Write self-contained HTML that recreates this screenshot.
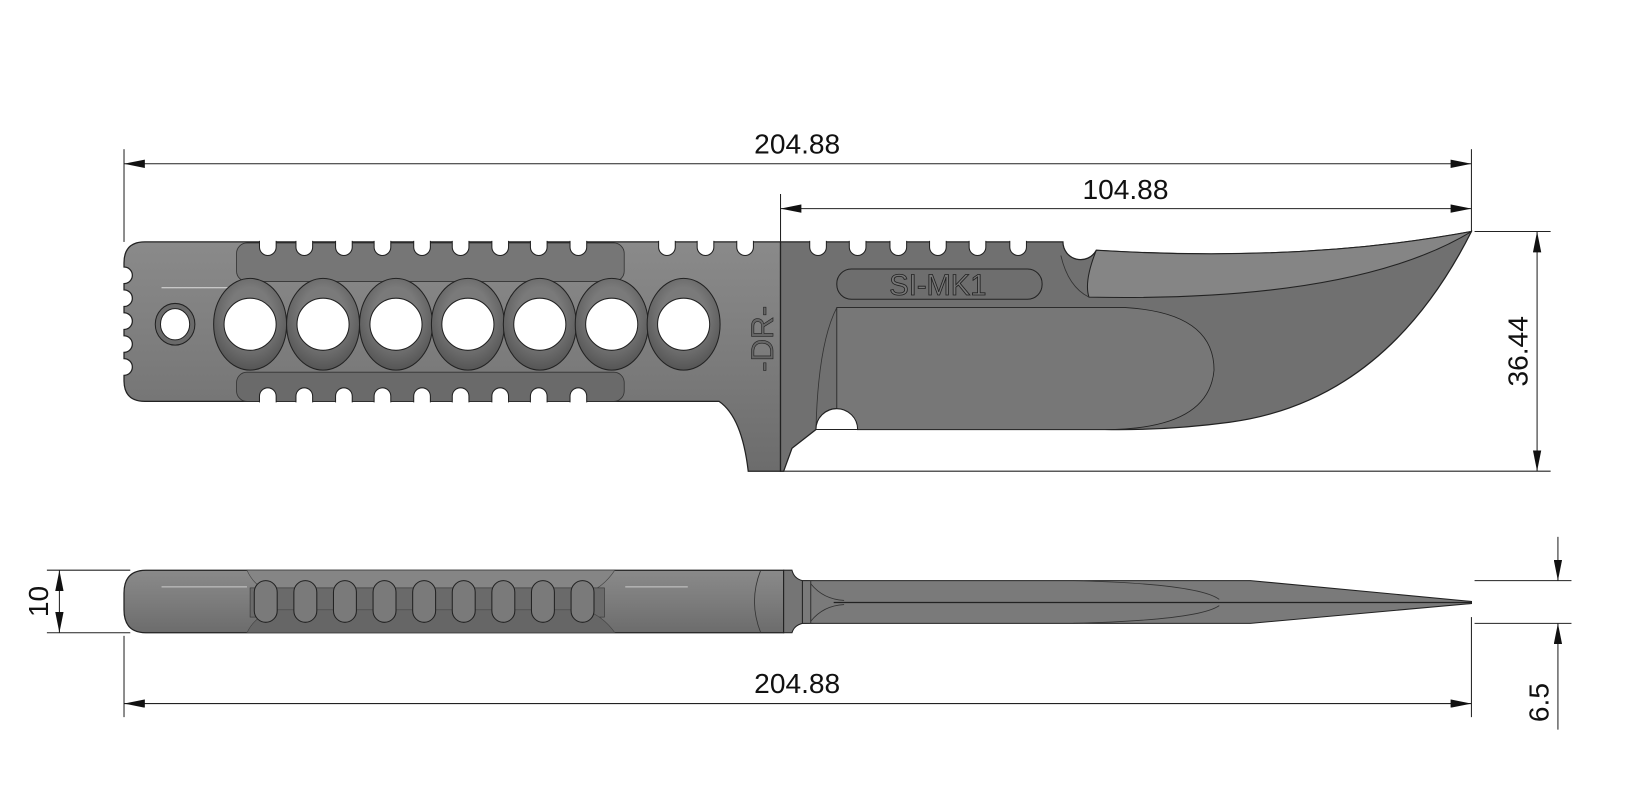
<!DOCTYPE html>
<html><head><meta charset="utf-8"><style>
html,body{margin:0;padding:0;background:#fff;}
svg{display:block;}
text{font-family:"Liberation Sans",sans-serif;fill:#111;}
</style></head><body>
<svg width="1634" height="809" viewBox="0 0 1568 776" xmlns="http://www.w3.org/2000/svg">
<defs>
<marker id="a" viewBox="0 0 20 8" refX="20" refY="4" markerWidth="20" markerHeight="8" orient="auto-start-reverse" markerUnits="userSpaceOnUse"><path d="M0,0 L20,4 L0,8 z" fill="#111"/></marker>
<linearGradient id="hg" x1="0" y1="0" x2="0" y2="1"><stop offset="0" stop-color="#8a8a8a"/><stop offset="0.5" stop-color="#7c7c7c"/><stop offset="1" stop-color="#6c6c6c"/></linearGradient>
<radialGradient id="ring" cx="0.5" cy="0.4" r="0.6"><stop offset="0.5" stop-color="#7a7a7a"/><stop offset="1" stop-color="#555"/></radialGradient>
<path id="nt" d="M-8,-1 L-8,5 A8,8 0 0 0 8,5 L8,-1" fill="#fff" stroke="#222" stroke-width="1"/>
<path id="nb" d="M-8,1 L-8,-5 A8,8 0 0 1 8,-5 L8,1" fill="#fff" stroke="#222" stroke-width="1"/>
</defs>
<g stroke="#222" stroke-width="1">
<line x1="119" y1="143" x2="119" y2="232"/>
<line x1="1412" y1="143" x2="1412" y2="222"/>
<line x1="749" y1="186" x2="749" y2="452"/>
<line x1="119" y1="157" x2="1412" y2="157" marker-start="url(#a)" marker-end="url(#a)"/>
<line x1="749" y1="200" x2="1412" y2="200" marker-start="url(#a)" marker-end="url(#a)"/>
<line x1="1415" y1="222" x2="1488" y2="222"/>
<line x1="749" y1="452" x2="1488" y2="452"/>
<line x1="1475" y1="222" x2="1475" y2="452" marker-start="url(#a)" marker-end="url(#a)"/>
</g>
<text x="765" y="147" font-size="27" text-anchor="middle">204.88</text>
<text x="1080" y="191" font-size="27" text-anchor="middle">104.88</text>
<text transform="translate(1466,337) rotate(-90)" font-size="27" text-anchor="middle">36.44</text>

<!-- handle top view -->
<path d="M139,232 L749,232 L749,452 L718,452 Q712,400 690,385 L139,385 Q119,385 119,365 L119,360 A8,8 0 0 0 119,344 L119,338 A8,8 0 0 0 119,322 L119,316 A8,8 0 0 0 119,300 L119,294 A8,8 0 0 0 119,278 L119,272 A8,8 0 0 0 119,256 L119,252 Q119,232 139,232 z" fill="url(#hg)" stroke="#222" stroke-width="1.2"/>
<rect x="227" y="233" width="372" height="37" rx="10" fill="#767676" stroke="#333" stroke-width="0.8"/>
<rect x="227" y="357" width="372" height="28" rx="10" fill="#6a6a6a" stroke="#333" stroke-width="0.8"/>
<g>
<use href="#nt" x="257" y="232"/><use href="#nt" x="292" y="232"/><use href="#nt" x="330" y="232"/><use href="#nt" x="367" y="232"/><use href="#nt" x="405" y="232"/><use href="#nt" x="442" y="232"/><use href="#nt" x="480" y="232"/><use href="#nt" x="517" y="232"/><use href="#nt" x="555" y="232"/>
<use href="#nt" x="640" y="232"/><use href="#nt" x="677" y="232"/><use href="#nt" x="715" y="232"/>
<use href="#nb" x="257" y="385"/><use href="#nb" x="292" y="385"/><use href="#nb" x="330" y="385"/><use href="#nb" x="367" y="385"/><use href="#nb" x="405" y="385"/><use href="#nb" x="442" y="385"/><use href="#nb" x="480" y="385"/><use href="#nb" x="517" y="385"/><use href="#nb" x="555" y="385"/>
</g>
<line x1="155" y1="276" x2="227" y2="276" stroke="#ddd" stroke-width="1"/>
<g stroke="#222" stroke-width="1">
<ellipse cx="240" cy="311" rx="35" ry="44" fill="url(#ring)"/>
<ellipse cx="310" cy="311" rx="35" ry="44" fill="url(#ring)"/>
<ellipse cx="380" cy="311" rx="35" ry="44" fill="url(#ring)"/>
<ellipse cx="449" cy="311" rx="35" ry="44" fill="url(#ring)"/>
<ellipse cx="518" cy="311" rx="35" ry="44" fill="url(#ring)"/>
<ellipse cx="587" cy="311" rx="35" ry="44" fill="url(#ring)"/>
<ellipse cx="656" cy="311" rx="35" ry="44" fill="url(#ring)"/>
<g fill="#fff">
<ellipse cx="240" cy="311" rx="25" ry="25"/><ellipse cx="310" cy="311" rx="25" ry="25"/><ellipse cx="380" cy="311" rx="25" ry="25"/><ellipse cx="449" cy="311" rx="25" ry="25"/><ellipse cx="518" cy="311" rx="25" ry="25"/><ellipse cx="587" cy="311" rx="25" ry="25"/><ellipse cx="656" cy="311" rx="25" ry="25"/>
</g>
<ellipse cx="168" cy="311" rx="19" ry="20" fill="#6a6a6a"/>
<ellipse cx="168" cy="311" rx="14" ry="15" fill="#fff"/>
</g>
<text transform="translate(742,325) rotate(-90)" font-size="30" text-anchor="middle" stroke="#222" stroke-width="0.6" style="fill:#666">-DR-</text>

<!-- blade top view -->
<path d="M749,232 L1020,232 A17,17 0 0 0 1052,240 Q1250,252 1412,222 Q1330,385 1180,405 Q1120,413 1060,412 L823,412 A20,20 0 0 0 783,412 L760,430 L752,452 L749,452 z" fill="#707070" stroke="#222" stroke-width="1.2"/>
<g>
<use href="#nt" x="785" y="232"/><use href="#nt" x="823" y="232"/><use href="#nt" x="862" y="232"/><use href="#nt" x="900" y="232"/><use href="#nt" x="938" y="232"/><use href="#nt" x="977" y="232"/>
</g>
<path d="M1052,240 Q1250,252 1412,222 Q1300,290 1045,285 Q1040,270 1052,240 z" fill="#858585" stroke="#222" stroke-width="1"/>
<path d="M1018,245 Q1025,275 1045,285" fill="none" stroke="#333" stroke-width="0.8"/>
<path d="M803,295 L1080,295 Q1165,300 1165,355 Q1160,412 1060,412 L803,412 z" fill="#777" stroke="#222" stroke-width="0.8"/>
<path d="M803,295 Q785,330 783,412" fill="none" stroke="#333" stroke-width="0.8"/>
<path d="M783,412 A20,20 0 0 1 823,412 z" fill="#fff" stroke="#222"/>
<rect x="803" y="258" width="197" height="29" rx="14" fill="#6e6e6e" stroke="#222" stroke-width="1"/>
<text x="900" y="283" font-size="28" text-anchor="middle" style="fill:#777" stroke="#222" stroke-width="0.8">SI-MK1</text>

<!-- bottom view -->
<g stroke="#222" stroke-width="1">
<line x1="45" y1="547" x2="125" y2="547"/>
<line x1="45" y1="607" x2="125" y2="607"/>
<line x1="57" y1="547" x2="57" y2="607" marker-start="url(#a)" marker-end="url(#a)"/>
<line x1="119" y1="610" x2="119" y2="688"/>
<line x1="1412" y1="592" x2="1412" y2="688"/>
<line x1="119" y1="675" x2="1412" y2="675" marker-start="url(#a)" marker-end="url(#a)"/>
<line x1="1415" y1="557" x2="1508" y2="557"/>
<line x1="1415" y1="598" x2="1508" y2="598"/>
<line x1="1495" y1="515" x2="1495" y2="557" marker-end="url(#a)"/>
<line x1="1495" y1="700" x2="1495" y2="598" marker-end="url(#a)"/>
</g>
<text transform="translate(46,577) rotate(-90)" font-size="27" text-anchor="middle">10</text>
<text x="765" y="665" font-size="27" text-anchor="middle">204.88</text>
<text transform="translate(1486,674) rotate(-90)" font-size="27" text-anchor="middle">6.5</text>

<path d="M140,547 L752,547 L752,607 L140,607 Q119,607 119,585 L119,569 Q119,547 140,547 z" fill="url(#hg)" stroke="#222" stroke-width="1.2"/>
<path d="M237,547 Q245,565 265,570 L560,570 Q578,565 590,547 z" fill="#858585" stroke="#444" stroke-width="0.6"/>
<rect x="240" y="564" width="340" height="28" fill="#6a6a6a" stroke="#333" stroke-width="0.6"/>
<path d="M237,607 Q245,590 265,585 L560,585 Q578,590 590,607 z" fill="#666" stroke="#444" stroke-width="0.6"/>
<g fill="#7a7a7a" stroke="#222" stroke-width="1">
<rect x="244" y="557" width="22" height="40" rx="11"/><rect x="282" y="557" width="22" height="40" rx="11"/><rect x="320" y="557" width="22" height="40" rx="11"/><rect x="358" y="557" width="22" height="40" rx="11"/><rect x="396" y="557" width="22" height="40" rx="11"/><rect x="434" y="557" width="22" height="40" rx="11"/><rect x="472" y="557" width="22" height="40" rx="11"/><rect x="510" y="557" width="22" height="40" rx="11"/><rect x="548" y="557" width="22" height="40" rx="11"/>
</g>
<line x1="155" y1="563" x2="237" y2="563" stroke="#ccc"/>
<line x1="600" y1="563" x2="660" y2="563" stroke="#ccc"/>
<path d="M730,547 Q718,577 730,607" fill="none" stroke="#333" stroke-width="0.8"/>
<path d="M752,547 L760,547 Q762,555 770,557 L1412,577 L1412,579 L770,598 Q762,600 760,607 L752,607 z" fill="#757575" stroke="#222" stroke-width="1"/>
<path d="M770,557 L1200,557 L1412,577 L1412,579 L1200,598 L770,598 z" fill="#7a7a7a" stroke="#222"/>
<line x1="778" y1="557" x2="778" y2="598" stroke="#333"/>
<line x1="800" y1="578" x2="1412" y2="578" stroke="#222" stroke-width="1.2"/>
<path d="M778,560 Q790,575 810,576 M778,596 Q790,581 810,580" fill="none" stroke="#333" stroke-width="0.8"/>
<path d="M1030,557 Q1150,560 1170,575 M1030,598 Q1150,595 1170,581" fill="none" stroke="#333" stroke-width="0.8"/>
</svg>
</body></html>
